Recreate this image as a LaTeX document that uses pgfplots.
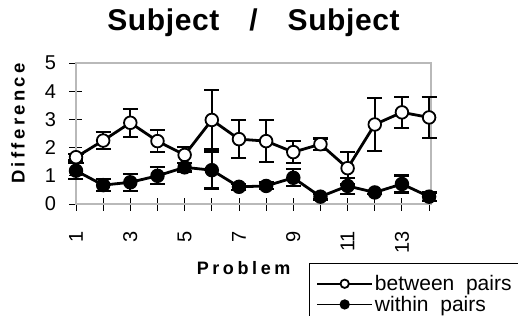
\documentclass[border=0pt]{standalone}
\usepackage{fontspec}
\setmainfont{Liberation Sans}
\usepackage{pgfplots}
\pgfplotsset{compat=1.18}
\begin{document}
\begin{tikzpicture}
\begin{axis}[
  at={(0,0)}, anchor=south west,
  scale only axis, width=355bp, height=141bp,
  xmin=1, xmax=14.07, ymin=0, ymax=5,
  clip=false,
  axis line style={gray!55, line width=1.6bp},
  tick style={black, line width=0.9bp},
  major tick length=13bp, tick align=center,
  xtick pos=lower, ytick pos=lower,
  xtick={1,...,14},
  xticklabels={1,,3,,5,,7,,9,,11,,13,},
  ytick={0,1,2,3,4,5},
  /pgf/number format/assume math mode=true,
  tick label style={font=\fontsize{20bp}{23bp}\selectfont},
  xticklabel style={yshift=-17bp, rotate=90, anchor=east},
  yticklabel style={xshift=-10bp, anchor=east},
  title={Subject\hspace{1em}/\hspace{1em}Subject},
  title style={at={(0.5,1)}, anchor=base, yshift=27bp, font=\fontsize{30bp}{33bp}\selectfont\bfseries\addfontfeature{LetterSpace=2}},
  xlabel={Problem},
  xlabel style={at={(0.472,0)}, anchor=base, yshift=-70bp, font=\fontsize{18bp}{22bp}\selectfont\bfseries\addfontfeature{LetterSpace=20}},
  ylabel={Difference},
  ylabel style={at={(axis description cs:0,0.571)}, anchor=center, yshift=58bp, font=\fontsize{18.5bp}{22bp}\selectfont\bfseries\addfontfeature{LetterSpace=18}},
  legend style={at={(233bp,-59bp)}, anchor=north west, draw=black, line width=0.8bp,
    font=\fontsize{21bp}{24bp}\selectfont, inner xsep=7bp, inner ysep=10bp,
    /tikz/every even column/.append style={column sep=2bp},
    cells={anchor=west}},
  legend image code/.code={
    \draw[#1, mark=none, line width=1.6bp] (0bp,0bp) -- (55bp,0bp);
    \draw[#1, line width=1.2bp, mark size=4.2bp] plot coordinates {(27.5bp,0bp)};
  },
]
\addplot[black, line width=2.8bp, mark=*, mark size=6.3bp,
  mark options={fill=white, line width=1.8bp},
  error bars/.cd, y dir=both, y explicit,
  error bar style={line width=1.8bp}, error mark options={rotate=90, mark size=7.5bp, line width=2.2bp}]
  coordinates {
  (1,1.66) +- (0,0.12)
  (2,2.25) +- (0,0.30)
  (3,2.88) +- (0,0.50)
  (4,2.23) +- (0,0.40)
  (5,1.74) +- (0,0.28)
  (6,2.98) +- (0,1.05)
  (7,2.30) +- (0,0.68)
  (8,2.23) +- (0,0.75)
  (9,1.84) +- (0,0.40)
  (10,2.12) +- (0,0.20)
  (11,1.27) +- (0,0.58)
  (12,2.82) +- (0,0.95)
  (13,3.25) +- (0,0.55)
  (14,3.07) +- (0,0.72)
  };
\addlegendentry{between\ \ pairs}
\addplot[black, line width=2.8bp, mark=*, mark size=6.3bp,
  mark options={fill=black, line width=1.8bp},
  error bars/.cd, y dir=both, y explicit,
  error bar style={line width=1.8bp}, error mark options={rotate=90, mark size=7.5bp, line width=2.2bp}]
  coordinates {
  (1,1.18) +- (0,0.28)
  (2,0.67) +- (0,0.22)
  (3,0.77) +- (0,0.30)
  (4,1.00) +- (0,0.30)
  (5,1.30) +- (0,0.15)
  (6,1.20) +- (0,0.65)
  (7,0.61) +- (0,0.10)
  (8,0.64) +- (0,0.12)
  (9,0.93) +- (0,0.30)
  (10,0.26) +- (0,0.10)
  (11,0.64) +- (0,0.28)
  (12,0.41) +- (0,0.06)
  (13,0.71) +- (0,0.30)
  (14,0.26) +- (0,0.15)
  };
\addlegendentry{within\ \ pairs}
\end{axis}
\pgfresetboundingbox
\useasboundingbox (-76bp,-112bp) rectangle (442bp,204bp);
\end{tikzpicture}
\end{document}
